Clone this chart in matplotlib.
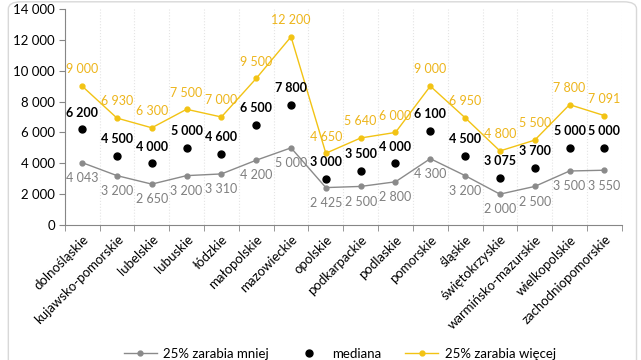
import numpy as np
import matplotlib.pyplot as plt
from matplotlib.patches import FancyBboxPatch
from matplotlib.lines import Line2D
from matplotlib.ticker import FuncFormatter, MultipleLocator

regions = ['dolnośląskie', 'kujawsko-pomorskie', 'lubelskie', 'lubuskie', 'łódzkie',
           'małopolskie', 'mazowieckie', 'opolskie', 'podkarpackie', 'podlaskie',
           'pomorskie', 'śląskie', 'świętokrzyskie', 'warmińsko-mazurskie',
           'wielkopolskie', 'zachodniopomorskie']
low = [4043, 3200, 2650, 3200, 3310, 4200, 5000, 2425, 2500, 2800, 4300, 3200, 2000, 2500, 3500, 3550]
median = [6200, 4500, 4000, 5000, 4600, 6500, 7800, 3000, 3500, 4000, 6100, 4500, 3075, 3700, 5000, 5000]
high = [9000, 6930, 6300, 7500, 7000, 9500, 12200, 4650, 5640, 6000, 9000, 6950, 4800, 5500, 7800, 7091]

YELLOW = '#F2C314'
YELLOW_TXT = '#EDB51B'
GRAY = '#8A8A8A'
GRAY_TXT = '#7F7F7F'

plt.rcParams['font.family'] = ['Lato', 'DejaVu Sans']

def fmt(v):
    return f'{v:,}'.replace(',', ' ')

fig = plt.figure(figsize=(6.41, 3.60), dpi=100)
ax = fig.add_axes([0.101, 0.375, 0.869, 0.600])

# chart area border
fig.patches.append(FancyBboxPatch((0.013, -0.05), 0.980, 1.045,
                                  boxstyle='round,pad=0,rounding_size=0.02',
                                  transform=fig.transFigure, fill=False,
                                  edgecolor='#D8D8D8', linewidth=1.0))

x = np.arange(len(regions))
ax.plot(x, low, color=GRAY, lw=1.0, marker='o', ms=3.5, zorder=3)
ax.plot(x, high, color=YELLOW, lw=1.0, marker='o', ms=3.5, zorder=3)
ax.plot(x, median, ls='none', color='black', marker='o', ms=5, zorder=4)

FS = 9.5
LFS = 9
for i in range(len(regions)):
    ax.annotate(fmt(high[i]), (x[i], high[i]), xytext=(0, 12), textcoords='offset points',
                ha='center', va='center', color=YELLOW_TXT, fontsize=LFS)
    ax.annotate(fmt(median[i]), (x[i], median[i]), xytext=(0, 12), textcoords='offset points',
                ha='center', va='center', color='black', fontsize=LFS, fontweight='bold')
    ax.annotate(fmt(low[i]), (x[i], low[i]), xytext=(0, -11), textcoords='offset points',
                ha='center', va='center', color=GRAY_TXT, fontsize=LFS)

ax.set_xlim(-0.5, len(regions) - 0.5)
ax.set_ylim(0, 14000)
ax.yaxis.set_major_locator(MultipleLocator(2000))
ax.yaxis.set_major_formatter(FuncFormatter(lambda v, p: fmt(int(v))))

ax.set_xticks(x)
ax.set_xticklabels(regions, rotation=45, ha='right', rotation_mode='anchor', fontsize=FS)
ax.set_xticks(np.arange(len(regions) + 1) - 0.5, minor=True)
ax.tick_params(axis='x', which='major', length=0, pad=6)
ax.tick_params(axis='x', which='minor', length=4, color='#868686')
ax.tick_params(axis='y', length=4, color='#868686', labelsize=FS, pad=3)
ax.grid(axis='x', which='minor', color='#E4E4E4', ls=':', lw=0.8)

for s in ['top', 'right']:
    ax.spines[s].set_visible(False)
for s in ['left', 'bottom']:
    ax.spines[s].set_color('#868686')

handles = [Line2D([], [], color=GRAY, lw=1.0, marker='o', ms=3.5),
           Line2D([], [], ls='none', color='black', marker='o', ms=5),
           Line2D([], [], color=YELLOW, lw=1.0, marker='o', ms=3.5)]
fig.legend(handles, ['25% zarabia mniej', 'mediana', '25% zarabia więcej'],
           loc='center', bbox_to_anchor=(0.53, 0.018), ncol=3, frameon=False,
           fontsize=FS, handlelength=2.5, columnspacing=1.8, handletextpad=0.5)

fig.savefig('out.png', dpi=100)
